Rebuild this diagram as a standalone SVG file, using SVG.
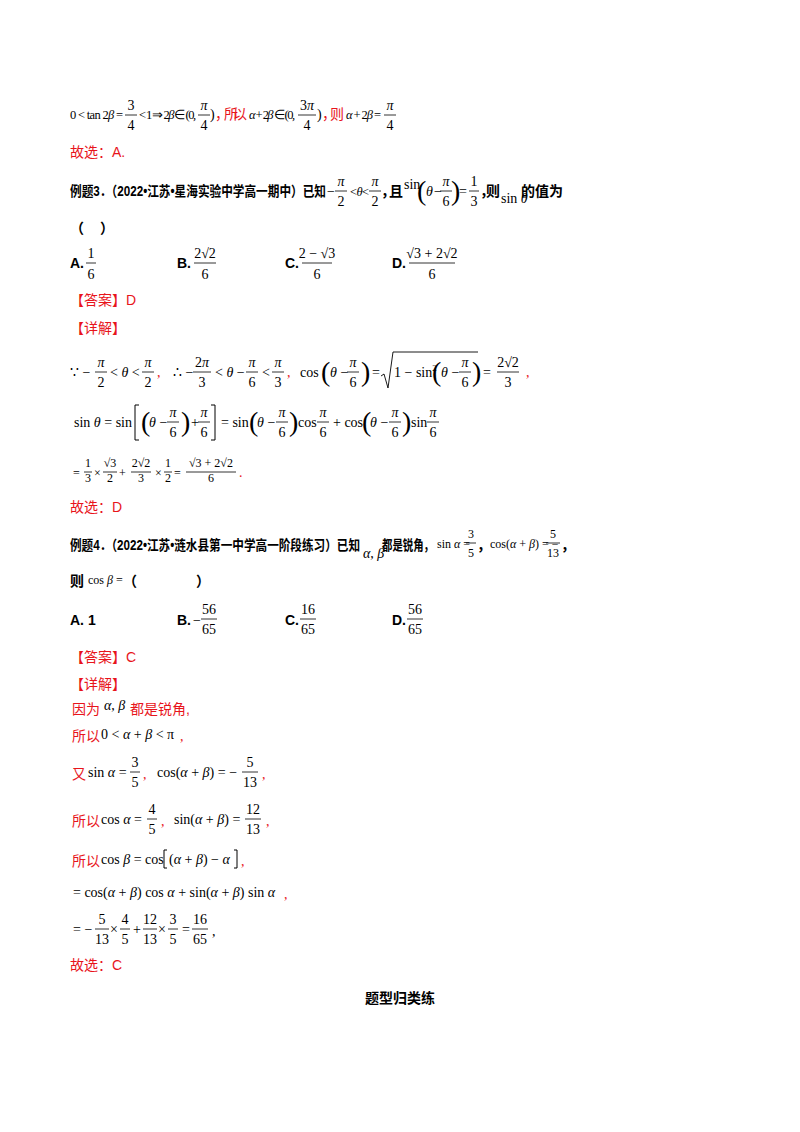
<svg xmlns="http://www.w3.org/2000/svg" width="800" height="1132" viewBox="0 0 800 1132">
<style>
text{font-family:"Liberation Serif",serif;font-size:14px;fill:#000}
.cn{font-family:"Liberation Sans","Noto Sans CJK SC",sans-serif}
.b{font-weight:bold}
.r{fill:#e8141b}
.i{font-style:italic}
.c{text-anchor:middle}
.s{font-size:12px}
.m{font-size:12.5px}
.p{font-size:28px;font-weight:100}
.fl{stroke:#000;stroke-width:0.8}
.br{fill:none;stroke:#000;stroke-width:1}
</style>
<rect width="800" height="1132" fill="#fff"/>
<g id="line1">
<text x="70" y="119" class="m" textLength="53" lengthAdjust="spacing">0 &lt; tan 2<tspan class="i">β</tspan> =</text>
<text x="131" y="110" class="c">3</text><line class="fl" x1="125" y1="115" x2="137" y2="115"/><text x="131" y="130" class="c">4</text>
<text x="139" y="119" class="m" textLength="57" lengthAdjust="spacing">&lt; 1 ⇒ 2<tspan class="i">β</tspan> ∈ (0,</text>
<text x="204" y="110" class="c i">π</text><line class="fl" x1="198" y1="115" x2="210" y2="115"/><text x="204" y="130" class="c">4</text>
<text x="210" y="119">)</text>
<text x="215" y="119" class="cn r" textLength="32">，所以</text>
<text x="249" y="119" class="m" textLength="46" lengthAdjust="spacing"><tspan class="i">α</tspan> + 2<tspan class="i">β</tspan> ∈ (0,</text>
<text x="307" y="110" class="c">3<tspan class="i">π</tspan></text><line class="fl" x1="298" y1="115" x2="316" y2="115"/><text x="307" y="130" class="c">4</text>
<text x="317" y="119">)</text>
<text x="322" y="119" class="cn r" textLength="22">，则</text>
<text x="346" y="119" class="m" textLength="35" lengthAdjust="spacing"><tspan class="i">α</tspan> + 2<tspan class="i">β</tspan> =</text>
<text x="390" y="110" class="c i">π</text><line class="fl" x1="384" y1="115" x2="396" y2="115"/><text x="390" y="130" class="c">4</text>
<text x="70" y="157" class="cn r">故选：A.</text>
</g>
<g id="ex3">
<text x="70" y="196" class="cn b" textLength="256" lengthAdjust="spacingAndGlyphs">例题3．（2022•江苏•星海实验中学高一期中）已知</text>
<text x="327" y="196">−</text>
<text x="341" y="186" class="c i">π</text><line class="fl" x1="335" y1="191" x2="347" y2="191"/><text x="341" y="206" class="c">2</text>
<text x="350" y="196" class="m" textLength="19" lengthAdjust="spacing">&lt; <tspan class="i">θ</tspan> &lt;</text>
<text x="375" y="186" class="c i">π</text><line class="fl" x1="369" y1="191" x2="381" y2="191"/><text x="375" y="206" class="c">2</text>
<text x="381" y="196" class="cn b" textLength="22">，且</text>
<text x="404" y="189" font-size="13">sin</text>
<text x="417" y="200" class="p">(</text>
<text x="426" y="196" class="i">θ</text><text x="434" y="196">−</text>
<text x="446" y="186" class="c i">π</text><line class="fl" x1="440" y1="191" x2="452" y2="191"/><text x="446" y="206" class="c">6</text>
<text x="451" y="200" class="p">)</text>
<text x="459" y="196">=</text>
<text x="474" y="186" class="c">1</text><line class="fl" x1="469" y1="191" x2="479" y2="191"/><text x="474" y="206" class="c">3</text>
<text x="480" y="196" class="cn b" textLength="20">，则</text>
<text x="501" y="203" font-size="13">sin <tspan class="i">θ</tspan></text>
<text x="521" y="196" class="cn b">的值为</text>
<text x="70" y="233" class="cn b">（</text><text x="100" y="233" class="cn b">）</text>
<text x="70" y="268" class="cn b">A.</text>
<text x="91" y="258" class="c">1</text><line class="fl" x1="86" y1="263" x2="96" y2="263"/><text x="91" y="279" class="c">6</text>
<text x="177" y="268" class="cn b">B.</text>
<text x="205" y="258" class="c">2√2</text><line class="fl" x1="194" y1="263" x2="216" y2="263"/><text x="205" y="279" class="c">6</text>
<text x="285" y="268" class="cn b">C.</text>
<text x="317" y="258" class="c">2 − √3</text><line class="fl" x1="302" y1="263" x2="332" y2="263"/><text x="317" y="279" class="c">6</text>
<text x="392" y="268" class="cn b">D.</text>
<text x="432" y="258" class="c">√3 + 2√2</text><line class="fl" x1="409" y1="263" x2="455" y2="263"/><text x="432" y="279" class="c">6</text>
<text x="70" y="305" class="cn r">【答案】D</text>
<text x="70" y="333" class="cn r">【详解】</text>
</g>
<g id="sol3">
<text x="70" y="377">∵ −</text>
<text x="101" y="367" class="c i">π</text><line class="fl" x1="95" y1="372" x2="107" y2="372"/><text x="101" y="387" class="c">2</text>
<text x="110" y="377">&lt; <tspan class="i">θ</tspan> &lt;</text>
<text x="148" y="367" class="c i">π</text><line class="fl" x1="142" y1="372" x2="154" y2="372"/><text x="148" y="387" class="c">2</text>
<text x="157" y="377" class="r">,</text>
<text x="173" y="377">∴ −</text>
<text x="202" y="367" class="c">2<tspan class="i">π</tspan></text><line class="fl" x1="193" y1="372" x2="211" y2="372"/><text x="202" y="387" class="c">3</text>
<text x="215" y="377">&lt; <tspan class="i">θ</tspan> −</text>
<text x="252" y="367" class="c i">π</text><line class="fl" x1="246" y1="372" x2="258" y2="372"/><text x="252" y="387" class="c">6</text>
<text x="262" y="377">&lt;</text>
<text x="278" y="367" class="c i">π</text><line class="fl" x1="272" y1="372" x2="284" y2="372"/><text x="278" y="387" class="c">3</text>
<text x="287" y="377" class="r">,</text>
<text x="300" y="377">cos</text>
<text x="321" y="381" class="p">(</text>
<text x="330" y="377"><tspan class="i">θ</tspan> −</text>
<text x="353" y="367" class="c i">π</text><line class="fl" x1="347" y1="372" x2="359" y2="372"/><text x="353" y="387" class="c">6</text>
<text x="361" y="381" class="p">)</text>
<text x="372" y="377">=</text>
<path d="M381 376 L384 374 L388 388 L393 352 L478 352" fill="none" stroke="#000" stroke-width="0.9"/>
<text x="394" y="377">1 − sin<tspan font-size="9" dy="-6">2</tspan></text>
<text x="432" y="381" class="p">(</text>
<text x="441" y="377"><tspan class="i">θ</tspan> −</text>
<text x="465" y="367" class="c i">π</text><line class="fl" x1="459" y1="372" x2="471" y2="372"/><text x="465" y="387" class="c">6</text>
<text x="472" y="381" class="p">)</text>
<text x="483" y="377">=</text>
<text x="508" y="367" class="c">2√2</text><line class="fl" x1="497" y1="372" x2="519" y2="372"/><text x="508" y="387" class="c">3</text>
<text x="526" y="377" class="r">,</text>
<text x="74" y="427">sin <tspan class="i">θ</tspan> = sin</text>
<path class="br" d="M139 405 L135 405 L135 440 L139 440"/>
<text x="141" y="431" class="p">(</text>
<text x="149" y="427"><tspan class="i">θ</tspan> −</text>
<text x="173" y="417" class="c i">π</text><line class="fl" x1="167" y1="422" x2="179" y2="422"/><text x="173" y="437" class="c">6</text>
<text x="181" y="431" class="p">)</text>
<text x="191" y="427">+</text>
<text x="204" y="417" class="c i">π</text><line class="fl" x1="198" y1="422" x2="210" y2="422"/><text x="204" y="437" class="c">6</text>
<path class="br" d="M211 405 L215 405 L215 440 L211 440"/>
<text x="221" y="427">= sin</text>
<text x="249" y="431" class="p">(</text>
<text x="257" y="427"><tspan class="i">θ</tspan> −</text>
<text x="282" y="417" class="c i">π</text><line class="fl" x1="276" y1="422" x2="288" y2="422"/><text x="282" y="437" class="c">6</text>
<text x="289" y="431" class="p">)</text>
<text x="298" y="427">cos</text>
<text x="323" y="417" class="c i">π</text><line class="fl" x1="317" y1="422" x2="329" y2="422"/><text x="323" y="437" class="c">6</text>
<text x="333" y="427">+ cos</text>
<text x="362" y="431" class="p">(</text>
<text x="370" y="427"><tspan class="i">θ</tspan> −</text>
<text x="395" y="417" class="c i">π</text><line class="fl" x1="389" y1="422" x2="401" y2="422"/><text x="395" y="437" class="c">6</text>
<text x="402" y="431" class="p">)</text>
<text x="411" y="427">sin</text>
<text x="433" y="417" class="c i">π</text><line class="fl" x1="427" y1="422" x2="439" y2="422"/><text x="433" y="437" class="c">6</text>
<text x="73" y="477" class="s">=</text>
<text x="88" y="467" class="c s">1</text><line class="fl" x1="84" y1="472" x2="92" y2="472"/><text x="88" y="482" class="c s">3</text>
<text x="94" y="477" class="s">×</text>
<text x="110" y="467" class="c s">√3</text><line class="fl" x1="103" y1="472" x2="117" y2="472"/><text x="110" y="482" class="c s">2</text>
<text x="119" y="477" class="s">+</text>
<text x="141" y="467" class="c s">2√2</text><line class="fl" x1="131" y1="472" x2="151" y2="472"/><text x="141" y="482" class="c s">3</text>
<text x="155" y="477" class="s">×</text>
<text x="168" y="467" class="c s">1</text><line class="fl" x1="164" y1="472" x2="172" y2="472"/><text x="168" y="482" class="c s">2</text>
<text x="174" y="477" class="s">=</text>
<text x="211" y="467" class="c s">√3 + 2√2</text><line class="fl" x1="186" y1="472" x2="236" y2="472"/><text x="211" y="482" class="c s">6</text>
<text x="239" y="477" class="r">.</text>
<text x="70" y="512" class="cn r">故选：D</text>
</g>
<g id="ex4">
<text x="70" y="550" class="cn b" textLength="290" lengthAdjust="spacingAndGlyphs">例题4．（2022•江苏•涟水县第一中学高一阶段练习）已知</text>
<text x="363" y="558"><tspan class="i">α</tspan>, <tspan class="i">β</tspan></text>
<text x="382" y="550" class="cn b" textLength="52" lengthAdjust="spacingAndGlyphs">都是锐角，</text>
<text x="437" y="548" class="s">sin <tspan class="i">α</tspan> =</text>
<text x="471" y="538" class="c s">3</text><line class="fl" x1="466" y1="543" x2="476" y2="543"/><text x="471" y="557" class="c s">5</text>
<text x="477" y="550" class="cn b">，</text>
<text x="490" y="548" class="s">cos(<tspan class="i">α</tspan> + <tspan class="i">β</tspan>) = −</text>
<text x="553" y="538" class="c s">5</text><line class="fl" x1="546" y1="543" x2="560" y2="543"/><text x="553" y="557" class="c s">13</text>
<text x="561" y="550" class="cn b">，</text>
<text x="70" y="586" class="cn b">则</text>
<text x="88" y="584" class="s">cos <tspan class="i">β</tspan> =</text>
<text x="123" y="586" class="cn b">（</text><text x="196" y="586" class="cn b">）</text>
<text x="70" y="625" class="cn b">A.  1</text>
<text x="177" y="625" class="cn b">B.</text>
<text x="193" y="625">−</text>
<text x="209" y="614" class="c">56</text><line class="fl" x1="201" y1="619" x2="217" y2="619"/><text x="209" y="634" class="c">65</text>
<text x="285" y="625" class="cn b">C.</text>
<text x="308" y="614" class="c">16</text><line class="fl" x1="300" y1="619" x2="316" y2="619"/><text x="308" y="634" class="c">65</text>
<text x="392" y="625" class="cn b">D.</text>
<text x="415" y="614" class="c">56</text><line class="fl" x1="407" y1="619" x2="423" y2="619"/><text x="415" y="634" class="c">65</text>
<text x="70" y="662" class="cn r">【答案】C</text>
<text x="70" y="689" class="cn r">【详解】</text>
</g>
<g id="sol4">
<text x="72" y="714" class="cn r">因为</text><text x="104" y="710"><tspan class="i">α</tspan>, <tspan class="i">β</tspan></text><text x="130" y="714" class="cn r">都是锐角,</text>
<text x="72" y="741" class="cn r">所以</text><text x="101" y="739">0 &lt; <tspan class="i">α</tspan> + <tspan class="i">β</tspan> &lt; π</text><text x="180" y="741" class="r">,</text>
<text x="72" y="779" class="cn r">又</text><text x="88" y="777">sin <tspan class="i">α</tspan> =</text>
<text x="135" y="767" class="c">3</text><line class="fl" x1="130" y1="772" x2="140" y2="772"/><text x="135" y="787" class="c">5</text>
<text x="143" y="779" class="r">,</text>
<text x="157" y="777">cos(<tspan class="i">α</tspan> + <tspan class="i">β</tspan>) = −</text>
<text x="250" y="767" class="c">5</text><line class="fl" x1="242" y1="772" x2="258" y2="772"/><text x="250" y="787" class="c">13</text>
<text x="262" y="779" class="r">,</text>
<text x="72" y="826" class="cn r">所以</text><text x="101" y="824">cos <tspan class="i">α</tspan> =</text>
<text x="152" y="814" class="c">4</text><line class="fl" x1="147" y1="819" x2="157" y2="819"/><text x="152" y="834" class="c">5</text>
<text x="161" y="826" class="r">,</text>
<text x="174" y="824">sin(<tspan class="i">α</tspan> + <tspan class="i">β</tspan>) =</text>
<text x="253" y="814" class="c">12</text><line class="fl" x1="245" y1="819" x2="261" y2="819"/><text x="253" y="834" class="c">13</text>
<text x="266" y="826" class="r">,</text>
<text x="72" y="866" class="cn r">所以</text><text x="101" y="864">cos <tspan class="i">β</tspan> = cos</text>
<path class="br" d="M167 850 L164 850 L164 868 L167 868"/>
<text x="169" y="864">(<tspan class="i">α</tspan> + <tspan class="i">β</tspan>) − <tspan class="i">α</tspan></text>
<path class="br" d="M234 850 L237 850 L237 868 L234 868"/>
<text x="241" y="866" class="r">,</text>
<text x="73" y="897">= cos(<tspan class="i">α</tspan> + <tspan class="i">β</tspan>) cos <tspan class="i">α</tspan> + sin(<tspan class="i">α</tspan> + <tspan class="i">β</tspan>) sin <tspan class="i">α</tspan></text><text x="284" y="899" class="r">,</text>
<text x="73" y="934">= −</text>
<text x="102" y="924" class="c">5</text><line class="fl" x1="95" y1="929" x2="109" y2="929"/><text x="102" y="944" class="c">13</text>
<text x="110" y="934">×</text>
<text x="125" y="924" class="c">4</text><line class="fl" x1="120" y1="929" x2="130" y2="929"/><text x="125" y="944" class="c">5</text>
<text x="133" y="934">+</text>
<text x="150" y="924" class="c">12</text><line class="fl" x1="143" y1="929" x2="157" y2="929"/><text x="150" y="944" class="c">13</text>
<text x="158" y="934">×</text>
<text x="173" y="924" class="c">3</text><line class="fl" x1="168" y1="929" x2="178" y2="929"/><text x="173" y="944" class="c">5</text>
<text x="182" y="934">=</text>
<text x="200" y="924" class="c">16</text><line class="fl" x1="192" y1="929" x2="208" y2="929"/><text x="200" y="944" class="c">65</text>
<text x="212" y="936">,</text>
<text x="70" y="970" class="cn r">故选：C</text>
</g>
<text x="400" y="1003" class="cn b c" font-size="15">题型归类练</text>
</svg>
